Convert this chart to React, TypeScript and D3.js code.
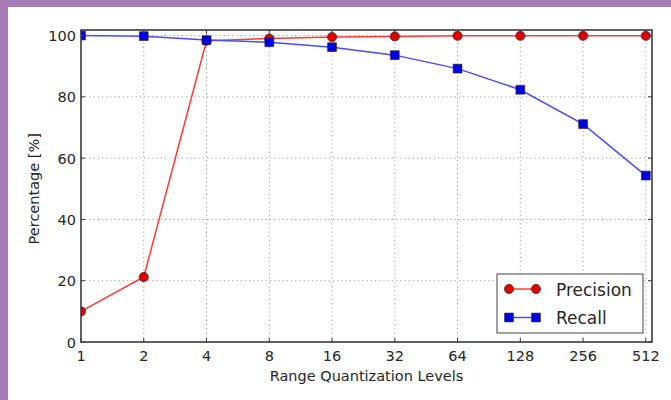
import React, {useEffect, useRef} from 'react';
import * as d3 from 'd3';

// quantization levels on the x axis (log2 scale)
const levels = [1, 2, 4, 8, 16, 32, 64, 128, 256, 512];
const precision = [10, 21.2, 98.3, 99.0, 99.5, 99.7, 99.9, 99.9, 99.9, 99.9];
const recall = [100, 99.8, 98.5, 97.8, 96.2, 93.6, 89.2, 82.3, 71.1, 54.3];
const yTicks = [0, 20, 40, 60, 80, 100];
const seriesNames = ['Precision', 'Recall'];

const FONT = '"DejaVu Sans", sans-serif';

const App = () => {
    const ref = useRef<SVGSVGElement>(null);

    useEffect(() => {
        const width = 671;
        const height = 400;
        const margin = {top: 30, left: 81, bottom: 58, right: 19};
        const iwidth = width - margin.left - margin.right;
        const iheight = height - margin.top - margin.bottom;

        const svg = d3.select(ref.current);
        svg.selectAll('*').remove();
        svg.attr('width', width).attr('height', height);

        svg.append('rect').attr('width', width).attr('height', height).attr('fill', '#fff');
        // purple frame, top and left
        svg.append('rect').attr('width', width).attr('height', 7).attr('fill', '#a67bb6');
        svg.append('rect').attr('width', 8).attr('height', height).attr('fill', '#a67bb6');

        const x = d3.scaleLog().base(2).domain([1, 548]).range([0, iwidth]);
        const y = d3.scaleLinear().domain([0, 101.8]).range([iheight, 0]);

        const g = svg.append('g').attr('transform', `translate(${margin.left},${margin.top})`);

        svg.append('defs').append('clipPath').attr('id', 'plotclip')
            .append('rect').attr('width', iwidth).attr('height', iheight);

        // grid
        g.append('g').selectAll('line').data(levels.slice(1)).enter().append('line')
            .attr('x1', d => x(d)).attr('x2', d => x(d))
            .attr('y1', 0).attr('y2', iheight)
            .attr('stroke', '#a0a0a0').attr('stroke-width', 1).attr('stroke-dasharray', '1.2,3');
        g.append('g').selectAll('line').data(yTicks.slice(1)).enter().append('line')
            .attr('x1', 0).attr('x2', iwidth)
            .attr('y1', d => y(d)).attr('y2', d => y(d))
            .attr('stroke', '#a0a0a0').attr('stroke-width', 1).attr('stroke-dasharray', '1.2,3');

        const plot = g.append('g').attr('clip-path', 'url(#plotclip)');

        const series = [
            {vals: precision, line: '#ff3a3a', fill: '#dd0000', marker: 'circle'},
            {vals: recall, line: '#4a4aff', fill: '#0000e0', marker: 'square'},
        ];
        const symbolFor = (m: string) => d3.symbol()
            .type(m === 'circle' ? d3.symbolCircle : d3.symbolSquare)
            .size(m === 'circle' ? 68 : 78);

        series.forEach(s => {
            const line = d3.line<number>().x((d, i) => x(levels[i])).y(d => y(d));
            plot.append('path').datum(s.vals)
                .attr('d', line)
                .attr('fill', 'none')
                .attr('stroke', s.line)
                .attr('stroke-width', 1.5);
        });
        series.forEach(s => {
            plot.append('g').selectAll('path').data(s.vals).enter().append('path')
                .attr('d', symbolFor(s.marker))
                .attr('transform', (d, i) => `translate(${x(levels[i])},${y(d)})`)
                .attr('fill', s.fill)
                .attr('stroke', '#222')
                .attr('stroke-width', 0.6);
        });

        // frame
        g.append('rect').attr('width', iwidth).attr('height', iheight)
            .attr('fill', 'none').attr('stroke', '#3a3a3a').attr('stroke-width', 1.6);

        // inward ticks on all sides
        const ticks = g.append('g').attr('stroke', '#3a3a3a').attr('stroke-width', 1);
        levels.forEach(l => {
            ticks.append('line').attr('x1', x(l)).attr('x2', x(l)).attr('y1', iheight).attr('y2', iheight - 4);
            ticks.append('line').attr('x1', x(l)).attr('x2', x(l)).attr('y1', 0).attr('y2', 4);
        });
        yTicks.forEach(t => {
            ticks.append('line').attr('x1', 0).attr('x2', 4).attr('y1', y(t)).attr('y2', y(t));
            ticks.append('line').attr('x1', iwidth).attr('x2', iwidth - 4).attr('y1', y(t)).attr('y2', y(t));
        });

        // tick labels
        g.append('g').selectAll('text').data(levels).enter().append('text')
            .attr('x', d => x(d)).attr('y', iheight + 19)
            .attr('text-anchor', 'middle')
            .attr('font-family', FONT).attr('font-size', 14.5).attr('fill', '#262626')
            .text(d => d);
        g.append('g').selectAll('text').data(yTicks).enter().append('text')
            .attr('x', -5).attr('y', d => y(d) + 5.5)
            .attr('text-anchor', 'end')
            .attr('font-family', FONT).attr('font-size', 14.5).attr('fill', '#262626')
            .text(d => d);

        // axis labels
        svg.append('text')
            .attr('x', margin.left + iwidth / 2).attr('y', 381)
            .attr('text-anchor', 'middle')
            .attr('font-family', FONT).attr('font-size', 14.5).attr('fill', '#262626')
            .text('Range Quantization Levels');
        svg.append('text')
            .attr('transform', `translate(39,${margin.top + y(50)}) rotate(-90)`)
            .attr('text-anchor', 'middle')
            .attr('font-family', FONT).attr('font-size', 14.5).attr('fill', '#262626')
            .text('Percentage [%]');

        // legend
        const lg = svg.append('g').attr('transform', 'translate(497,274)');
        lg.append('rect').attr('width', 146).attr('height', 59)
            .attr('fill', '#fff').attr('stroke', '#444').attr('stroke-width', 1);
        seriesNames.forEach((name, i) => {
            const s = series[i];
            const yy = 15 + i * 28.5;
            lg.append('line').attr('x1', 12).attr('x2', 39).attr('y1', yy).attr('y2', yy)
                .attr('stroke', s.line).attr('stroke-width', 1.5);
            [12, 39].forEach(px => {
                lg.append('path').attr('d', symbolFor(s.marker)).attr('transform', `translate(${px},${yy})`)
                    .attr('fill', s.fill).attr('stroke', '#222').attr('stroke-width', 0.6);
            });
            lg.append('text').attr('x', 59).attr('y', yy + 6.5)
                .attr('font-family', FONT).attr('font-size', 17).attr('fill', '#262626')
                .text(name);
        });
    }, []);

    return (
        <div style={{position: 'fixed', left: 0, top: 0}}>
            <svg ref={ref} style={{display: 'block'}}/>
        </div>
    );
};

export default App;
